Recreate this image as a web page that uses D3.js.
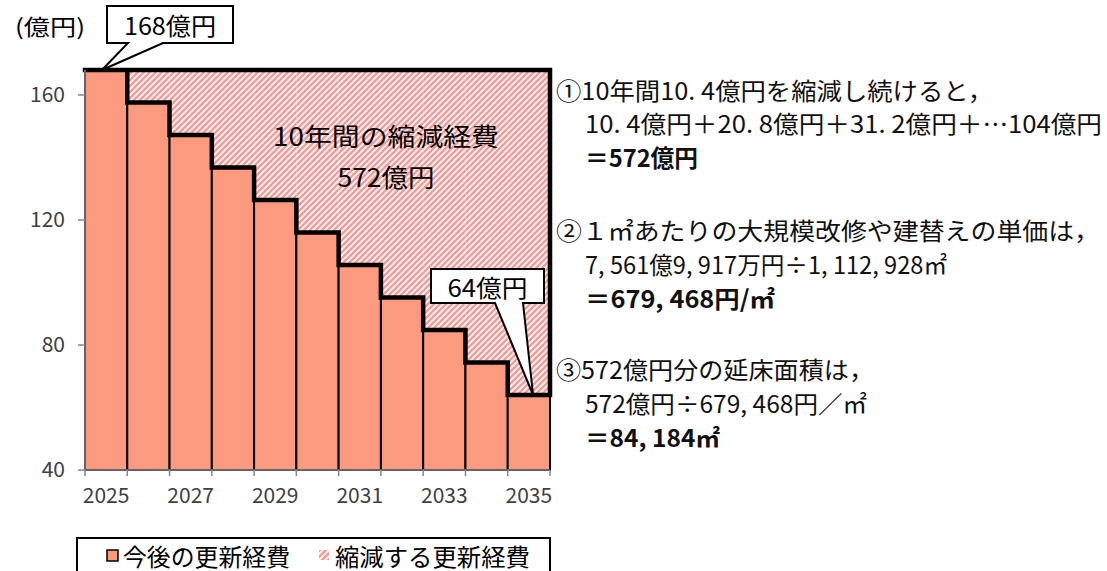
<!DOCTYPE html>
<html>
<head>
<meta charset="utf-8">
<script src="https://cdn.jsdelivr.net/npm/d3@7"></script>
<style>
  html, body { margin: 0; padding: 0; background: #fff; }
  svg { display: block; }
  text { font-family: "Noto Sans CJK JP", "Noto Sans", sans-serif; }
</style>
</head>
<body>
<svg id="chart" width="1107" height="571"></svg>
<script>
// ---- data ----
const years = [2025, 2026, 2027, 2028, 2029, 2030, 2031, 2032, 2033, 2034, 2035];
const remaining = [168, 157.6, 147.2, 136.8, 126.4, 116, 105.6, 95.2, 84.8, 74.4, 64];
const reduced = [0, 10.4, 20.8, 31.2, 41.6, 52, 62.4, 72.8, 83.2, 93.6, 104];
const yTicks = [40, 80, 120, 160];
const xLabelYears = [2025, 2027, 2029, 2031, 2033, 2035];
const seriesNames = ["今後の更新経費", "縮減する更新経費"];
const yUnit = "(億円)";
const calloutTop = "168億円";
const calloutBottom = "64億円";
const areaLabel = ["10年間の縮減経費", "572億円"];
const noteTexts = [
  "①10年間10. 4億円を縮減し続けると，",
  "10. 4億円＋20. 8億円＋31. 2億円＋…104億円",
  "＝572億円",
  "②１㎡あたりの大規模改修や建替えの単価は，",
  "7, 561億9, 917万円÷1, 112, 928㎡",
  "＝679, 468円/㎡",
  "③572億円分の延床面積は，",
  "572億円÷679, 468円／㎡",
  "＝84, 184㎡"
];
const noteBold = [false, false, true, false, false, true, false, false, true];

// ---- layout ----
const svg = d3.select("#chart");
const ORANGE = "#fc9a80";
const AXIS = "#868686";

const x = d3.scaleBand().domain(years).range([85, 550]).padding(0);
const y = d3.scaleLinear().domain([40, 160]).range([470, 95]);
const bw = x.bandwidth();

// hatch pattern
const defs = svg.append("defs");
const pat = defs.append("pattern").attr("id", "hatch")
  .attr("patternUnits", "userSpaceOnUse").attr("width", 6).attr("height", 6);
pat.append("rect").attr("width", 6).attr("height", 6).attr("fill", "#fff3f0");
pat.append("path").attr("d", "M0,6 L6,0 M-1.5,1.5 L1.5,-1.5 M4.5,7.5 L7.5,4.5")
  .attr("stroke", "#f19c9c").attr("stroke-width", 2.3);

// hatched (reduced) segments stacked on top
svg.append("g").selectAll("rect").data(years).join("rect")
  .attr("x", d => x(d))
  .attr("width", bw)
  .attr("y", (d, i) => y(remaining[i] + reduced[i]))
  .attr("height", (d, i) => y(remaining[i]) - y(remaining[i] + reduced[i]))
  .attr("fill", "url(#hatch)");

// orange bars
svg.append("g").selectAll("rect").data(years).join("rect")
  .attr("x", d => x(d))
  .attr("width", bw)
  .attr("y", (d, i) => y(remaining[i]))
  .attr("height", (d, i) => y(40) - y(remaining[i]))
  .attr("fill", ORANGE)
  .attr("stroke", "#000").attr("stroke-width", 2);

// thick outline of reduced area
const n = years.length;
const topVal = remaining[0] + reduced[0];
const xEnd = x(years[n - 1]) + bw;
const pts = [[x(years[0]), y(topVal)], [xEnd, y(topVal)], [xEnd, y(remaining[n - 1])]];
for (let i = n - 1; i >= 1; i--) {
  pts.push([x(years[i]), y(remaining[i])]);
  pts.push([x(years[i]), y(remaining[i - 1])]);
}
svg.append("path").attr("d", d3.line()(pts))
  .attr("fill", "none").attr("stroke", "#000").attr("stroke-width", 4.5)
  .attr("stroke-linejoin", "miter").attr("stroke-linecap", "square");

// y axis
const gy = svg.append("g");
gy.append("line").attr("x1", 85).attr("x2", 85).attr("y1", y(topVal)).attr("y2", y(40))
  .attr("stroke", AXIS).attr("stroke-width", 1.5);
gy.selectAll("line.t").data(yTicks).join("line").attr("class", "t")
  .attr("x1", 78).attr("x2", 85).attr("y1", d => y(d)).attr("y2", d => y(d))
  .attr("stroke", AXIS).attr("stroke-width", 1.5);
gy.selectAll("text").data(yTicks).join("text")
  .attr("x", 65).attr("y", d => y(d)).attr("dy", "0.35em")
  .attr("text-anchor", "end").attr("font-size", 21).attr("fill", "#404040")
  .text(d => d);

// x axis
const gx = svg.append("g");
gx.append("line").attr("x1", 85).attr("x2", xEnd).attr("y1", y(40)).attr("y2", y(40))
  .attr("stroke", AXIS).attr("stroke-width", 1.5);
const bounds = years.map(d => x(d)).concat([xEnd]);
gx.selectAll("line.t").data(bounds).join("line").attr("class", "t")
  .attr("x1", d => d).attr("x2", d => d).attr("y1", y(40)).attr("y2", y(40) + 6)
  .attr("stroke", AXIS).attr("stroke-width", 1.5);
gx.selectAll("text").data(xLabelYears).join("text")
  .attr("x", d => x(d) + bw / 2).attr("y", 503)
  .attr("text-anchor", "middle").attr("font-size", 21).attr("fill", "#404040")
  .text(d => d);

// unit label
svg.append("text").attr("x", 15).attr("y", 25).attr("dominant-baseline", "central")
  .attr("font-size", 22).attr("textLength", 70).attr("lengthAdjust", "spacingAndGlyphs")
  .text(yUnit);

// area label
svg.append("text").attr("x", 386).attr("y", 135).attr("dominant-baseline", "central")
  .attr("text-anchor", "middle").attr("font-size", 25)
  .attr("textLength", 226).attr("lengthAdjust", "spacingAndGlyphs")
  .text(areaLabel[0]);
svg.append("text").attr("x", 386).attr("y", 176).attr("dominant-baseline", "central")
  .attr("text-anchor", "middle").attr("font-size", 25)
  .attr("textLength", 97).attr("lengthAdjust", "spacingAndGlyphs")
  .text(areaLabel[1]);

// callouts
function callout(bx0, by0, bx1, by1, base0, base1, tip, label, tw) {
  const p = d3.path();
  p.moveTo(bx0, by0); p.lineTo(bx1, by0); p.lineTo(bx1, by1);
  p.lineTo(base1, by1); p.lineTo(tip[0], tip[1]); p.lineTo(base0, by1);
  p.lineTo(bx0, by1); p.closePath();
  svg.append("path").attr("d", p.toString())
    .attr("fill", "#fff").attr("stroke", "#000").attr("stroke-width", 2)
    .attr("stroke-linejoin", "miter");
  svg.append("text").attr("x", (bx0 + bx1) / 2).attr("y", (by0 + by1) / 2)
    .attr("dominant-baseline", "central").attr("text-anchor", "middle")
    .attr("font-size", 24).attr("textLength", tw).attr("lengthAdjust", "spacingAndGlyphs")
    .text(label);
}
callout(107, 6, 233, 43, 128, 163, [x(years[0]) + bw * 0.4, y(remaining[0])], calloutTop, 92);
callout(431, 269, 544, 303, 495, 523, [x(years[n - 1]) + bw * 0.6, y(remaining[n - 1])], calloutBottom, 80);

// notes
const noteX = [556, 585, 585, 556, 585, 585, 556, 585, 585];
const noteY = [89, 122, 156, 229, 263, 297, 368, 402, 436];
const noteW = [437, 517, 113, 544, 362, 190, 318, 282, 135];
svg.append("g").selectAll("text").data(noteTexts).join("text")
  .attr("x", (d, i) => noteX[i]).attr("y", (d, i) => noteY[i])
  .attr("dominant-baseline", "central")
  .attr("font-size", 24)
  .attr("font-weight", (d, i) => noteBold[i] ? "bold" : "normal")
  .attr("textLength", (d, i) => noteW[i]).attr("lengthAdjust", "spacingAndGlyphs")
  .attr("fill", "#111")
  .attr("xml:space", "preserve")
  .style("white-space", "pre")
  .text(d => d);

// legend
const lg = svg.append("g");
lg.append("rect").attr("x", 77).attr("y", 538).attr("width", 473).attr("height", 60)
  .attr("fill", "#fff").attr("stroke", "#000").attr("stroke-width", 2);
lg.append("rect").attr("x", 107).attr("y", 550).attr("width", 11).attr("height", 11)
  .attr("fill", ORANGE).attr("stroke", "#000").attr("stroke-width", 1.5);
lg.append("text").attr("x", 123).attr("y", 555).attr("dominant-baseline", "central")
  .attr("font-size", 24).attr("textLength", 167).attr("lengthAdjust", "spacingAndGlyphs")
  .text(seriesNames[0]);
lg.append("rect").attr("x", 319).attr("y", 550).attr("width", 10).attr("height", 10)
  .attr("fill", "url(#hatch)");
lg.append("text").attr("x", 335).attr("y", 555).attr("dominant-baseline", "central")
  .attr("font-size", 24).attr("textLength", 195).attr("lengthAdjust", "spacingAndGlyphs")
  .text(seriesNames[1]);
</script>
</body>
</html>
